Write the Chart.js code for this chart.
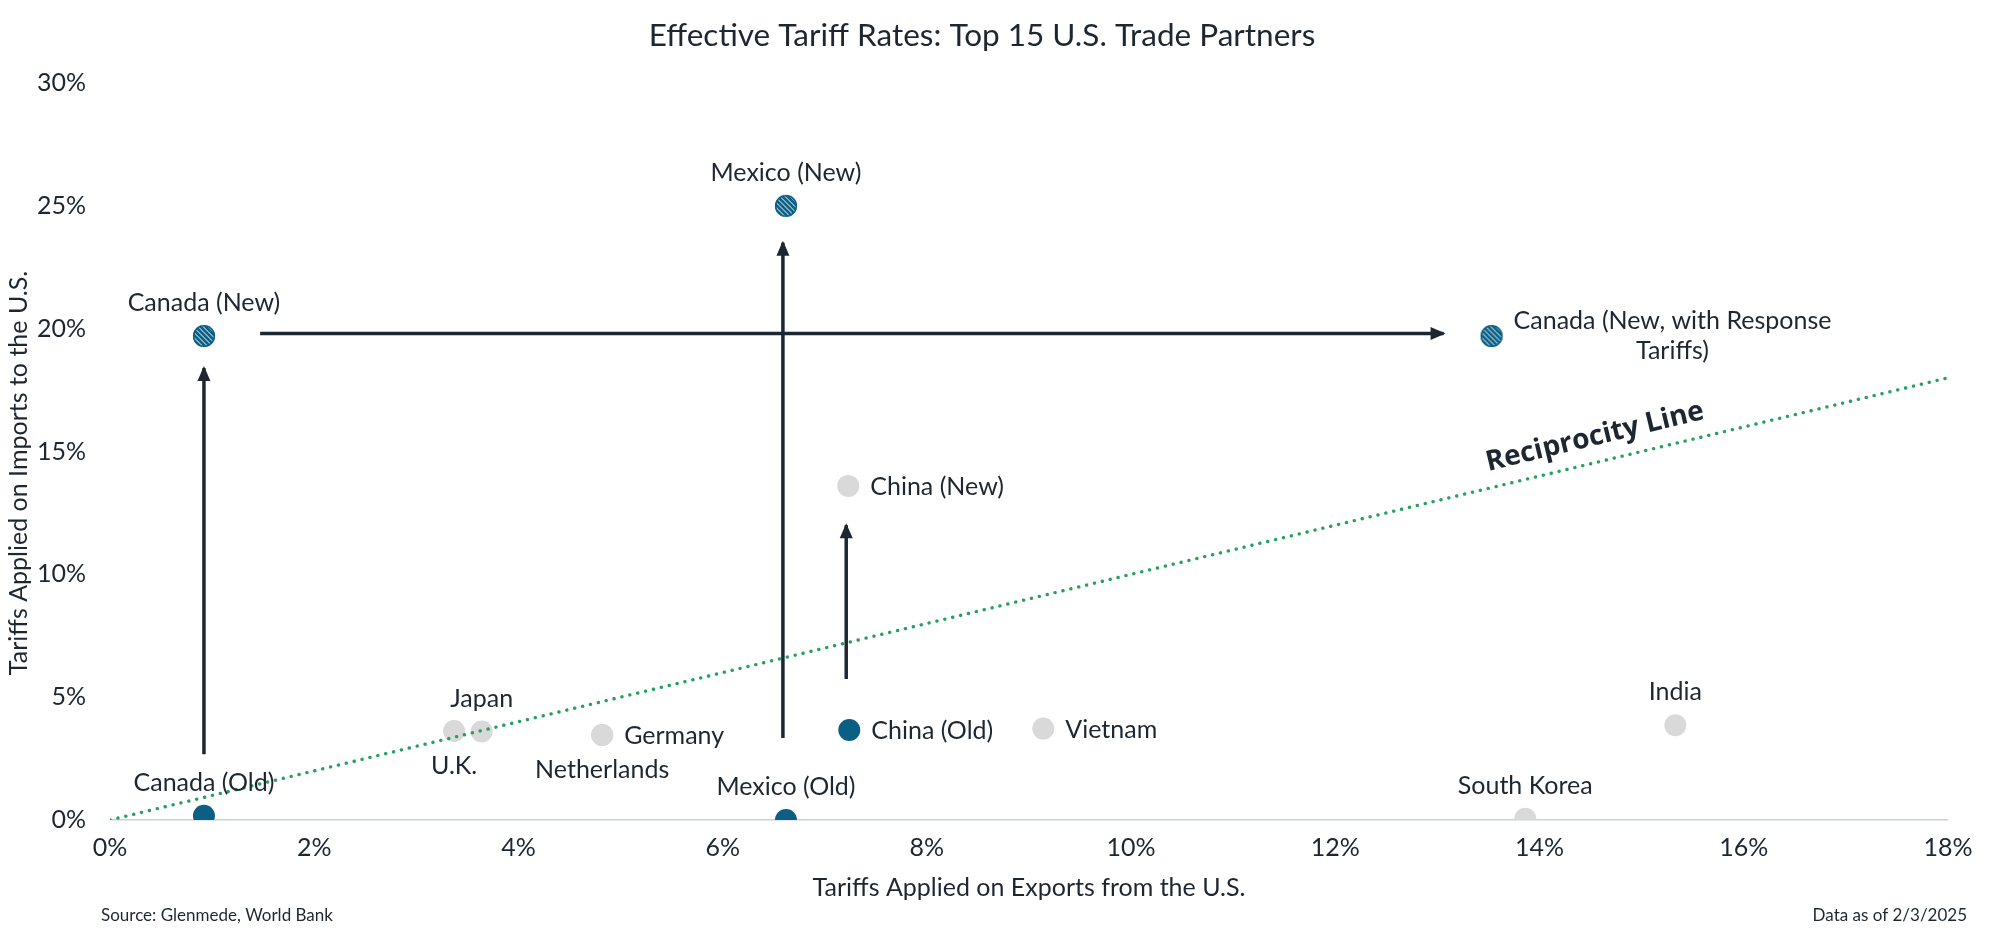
<!DOCTYPE html>
<html>
<head>
<meta charset="utf-8">
<title>Effective Tariff Rates</title>
<script src="https://cdn.jsdelivr.net/npm/chart.js@4/dist/chart.umd.min.js"></script>
<style>
  html, body { margin: 0; padding: 0; background: #fff; }
  #wrap { width: 2000px; height: 937px; position: relative; }
</style>
</head>
<body>
<div id="wrap"><canvas id="tariffChart" width="2000" height="937"></canvas></div>
<script>
// data (percent)
const grayNames = ["U.K.", "Japan", "Germany", "Netherlands", "Vietnam", "India", "South Korea", "China (New)"];
const grayX = [3.37, 3.64, 4.82, 4.82, 9.14, 15.33, 13.86, 7.23];
const grayY = [3.62, 3.6, 3.46, 3.46, 3.72, 3.86, 0.05, 13.6];
const grayPlace = ["below", "above", "right", "below", "right", "above", "above", "right"];

const oldNames = ["Canada (Old)", "Mexico (Old)", "China (Old)"];
const oldX = [0.92, 6.62, 7.24];
const oldY = [0.17, 0, 3.66];
const oldPlace = ["above", "above", "right"];

const newNames = ["Canada (New)", "Mexico (New)", ["Canada (New, with Response", "Tariffs)"]];
const newX = [0.92, 6.62, 13.53];
const newY = [19.7, 25.0, 19.7];
const newPlace = ["above", "above", "right"];

// arrows: from -> to
const arrowFromX = [0.92, 1.47, 6.59, 7.21];
const arrowFromY = [2.68, 19.8, 3.34, 5.74];
const arrowToX = [0.92, 13.06, 6.59, 7.21];
const arrowToY = [18.4, 19.8, 23.5, 12.0];

// reciprocity line (y = x)
const recipX = [0, 18];
const recipY = [0, 18];
const recipLabelAt = 14.6;

const xTicks = [0, 2, 4, 6, 8, 10, 12, 14, 16, 18];
const yTicks = [0, 5, 10, 15, 20, 25, 30];

const INK = "#1e2731";
const BLUE = "#0b5f85";
const GRAY = "#d9d9d9";
const GREEN = "#27a060";
const FONT = "Lato, 'Open Sans', sans-serif";

// hatched marker
function hatchedDot(r){
  const c = document.createElement("canvas");
  const s = Math.ceil(r * 2 + 2);
  c.width = s; c.height = s;
  const g = c.getContext("2d");
  const m = s / 2;
  g.save();
  g.beginPath();
  g.arc(m, m, r, 0, Math.PI * 2);
  g.fillStyle = "#fff";
  g.fill();
  g.clip();
  g.strokeStyle = BLUE;
  g.lineWidth = 2.8;
  for(let k = -s; k < s * 2; k += 5){
    g.beginPath();
    g.moveTo(k, 0);
    g.lineTo(k + s, s);
    g.stroke();
  }
  g.restore();
  g.beginPath();
  g.arc(m, m, r - 0.6, 0, Math.PI * 2);
  g.strokeStyle = BLUE;
  g.lineWidth = 1.4;
  g.stroke();
  return c;
}

const pts = (xs, ys) => xs.map((x, i) => ({x: x, y: ys[i]}));

const datasets = [
  { label: "new", data: pts(newX, newY), pointStyle: hatchedDot(11), pointRadius: 11, showLine: false, names: newNames, place: newPlace, order: 1 },
  { label: "old", data: pts(oldX, oldY), backgroundColor: BLUE, borderColor: BLUE, pointRadius: 11, borderWidth: 0, showLine: false, names: oldNames, place: oldPlace, order: 1 },
  { label: "recip", type: "line", data: pts(recipX, recipY), borderColor: GREEN, borderWidth: 3.4, borderDash: [0.1, 8], borderCapStyle: "round", pointRadius: 0, fill: false, order: 2 },
  { label: "gray", data: pts(grayX, grayY), backgroundColor: GRAY, borderColor: GRAY, pointRadius: 11, borderWidth: 0, showLine: false, names: grayNames, place: grayPlace, order: 3 }
];

arrowFromX.forEach((fx, i) => {
  datasets.push({
    label: "arrow" + i, type: "line", arrow: true,
    data: [{x: fx, y: arrowFromY[i]}, {x: arrowToX[i], y: arrowToY[i]}],
    borderColor: INK, borderWidth: 3.5, pointRadius: 0, fill: false, order: 0
  });
});

// labels, arrowheads and loose text
const extras = {
  id: "extras",
  afterDatasetsDraw(chart){
    const ctx = chart.ctx;
    const xs = chart.scales.x, ys = chart.scales.y;

    // arrowheads
    chart.data.datasets.forEach(ds => {
      if(!ds.arrow) return;
      const a = ds.data[0], b = ds.data[1];
      const x1 = xs.getPixelForValue(a.x), y1 = ys.getPixelForValue(a.y);
      const x2 = xs.getPixelForValue(b.x), y2 = ys.getPixelForValue(b.y);
      const ang = Math.atan2(y2 - y1, x2 - x1);
      ctx.save();
      ctx.translate(x2, y2);
      ctx.rotate(ang);
      ctx.beginPath();
      ctx.moveTo(2, 0);
      ctx.lineTo(-13, -6.5);
      ctx.lineTo(-13, 6.5);
      ctx.closePath();
      ctx.fillStyle = INK;
      ctx.fill();
      ctx.restore();
    });

    // point labels
    ctx.save();
    ctx.fillStyle = INK;
    ctx.font = "25px " + FONT;
    chart.data.datasets.forEach(ds => {
      if(!ds.names) return;
      ds.data.forEach((p, i) => {
        const px = xs.getPixelForValue(p.x), py = ys.getPixelForValue(p.y);
        const name = ds.names[i];
        const where = ds.place[i];
        ctx.textBaseline = "middle";
        if(Array.isArray(name)){
          const w = Math.max(...name.map(t => ctx.measureText(t).width));
          ctx.textAlign = "center";
          const cx = px + 22 + w / 2;
          name.forEach((t, k) => ctx.fillText(t, cx, py - 15 + k * 30));
        } else if(where === "above"){
          ctx.textAlign = "center";
          ctx.fillText(name, px, py - 33);
        } else if(where === "below"){
          ctx.textAlign = "center";
          ctx.fillText(name, px, py + 35);
        } else {
          ctx.textAlign = "left";
          ctx.fillText(name, px + 22, py + 1);
        }
      });
    });

    // reciprocity label
    const lx0 = xs.getPixelForValue(recipX[0]), ly0 = ys.getPixelForValue(recipY[0]);
    const lx1 = xs.getPixelForValue(recipX[1]), ly1 = ys.getPixelForValue(recipY[1]);
    const ang = Math.atan2(ly1 - ly0, lx1 - lx0);
    const ax = xs.getPixelForValue(recipLabelAt), ay = ys.getPixelForValue(recipLabelAt);
    ctx.translate(ax, ay);
    ctx.rotate(ang);
    ctx.font = "bold 28px 'Open Sans', Lato, sans-serif";
    ctx.textAlign = "center";
    ctx.textBaseline = "middle";
    ctx.fillText("Reciprocity Line", 0, -25);
    ctx.restore();

    // title, y-axis title, notes
    ctx.save();
    ctx.fillStyle = INK;
    ctx.textBaseline = "middle";
    ctx.textAlign = "center";
    ctx.font = "31.5px " + FONT;
    ctx.fillText("Effective Tariff Rates: Top 15 U.S. Trade Partners", 982, 36);
    ctx.save();
    ctx.translate(19, 473);
    ctx.rotate(-Math.PI / 2);
    ctx.font = "25px " + FONT;
    ctx.fillText("Tariffs Applied on Imports to the U.S.", 0, 0);
    ctx.restore();
    ctx.font = "17px " + FONT;
    ctx.textAlign = "left";
    ctx.fillText("Source: Glenmede, World Bank", 101, 916);
    ctx.textAlign = "right";
    ctx.fillText("Data as of 2/3/2025", 1967, 916);
    ctx.restore();
  }
};

new Chart(document.getElementById("tariffChart"), {
  type: "scatter",
  data: { datasets: datasets },
  options: {
    responsive: false,
    animation: false,
    layout: { padding: { top: 83, right: 52, left: 0, bottom: 0 } },
    plugins: {
      legend: { display: false },
      tooltip: { enabled: false },
      title: { display: false }
    },
    scales: {
      x: {
        type: "linear",
        min: xTicks[0],
        max: xTicks[xTicks.length - 1],
        afterBuildTicks: s => { s.ticks = xTicks.map(v => ({value: v})); },
        afterFit: s => { s.height = 117; },
        grid: { display: false },
        border: { display: false },
        ticks: {
          padding: 5,
          color: INK,
          font: { family: FONT, size: 25 },
          callback: v => v + "%"
        },
        title: {
          display: true,
          text: "Tariffs Applied on Exports from the U.S.",
          color: INK,
          font: { family: FONT, size: 25 },
          padding: { top: 0, bottom: 34 }
        }
      },
      y: {
        type: "linear",
        min: yTicks[0],
        max: yTicks[yTicks.length - 1],
        afterBuildTicks: s => { s.ticks = yTicks.map(v => ({value: v})); },
        afterFit: s => { s.width = 110; },
        border: { display: false },
        grid: {
          drawTicks: false,
          lineWidth: 1.5,
          color: c => c.tick && c.tick.value === 0 ? "#c8d2db" : "rgba(0,0,0,0)"
        },
        ticks: {
          padding: 24,
          color: INK,
          font: { family: FONT, size: 25 },
          callback: v => v + "%"
        }
      }
    }
  },
  plugins: [extras]
});
</script>
</body>
</html>
